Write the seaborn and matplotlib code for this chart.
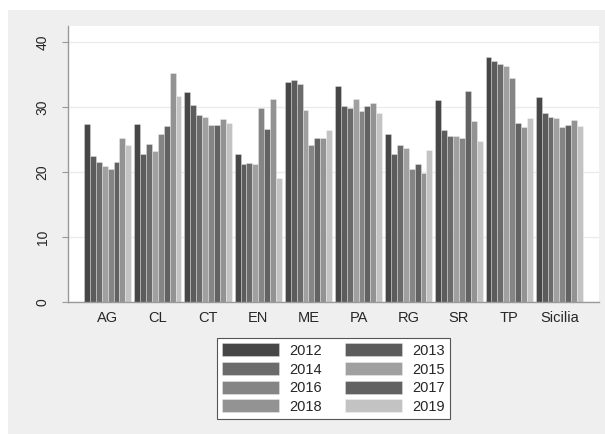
import pandas as pd
import numpy as np
import matplotlib
matplotlib.use('Agg')
import matplotlib.pyplot as plt
import seaborn as sns
from matplotlib.patches import Rectangle

# provinces and years
provinces = ['AG', 'CL', 'CT', 'EN', 'ME', 'PA', 'RG', 'SR', 'TP', 'Sicilia']
years = ['2012', '2013', '2014', '2015', '2016', '2017', '2018', '2019']

# values per province, one per year (2012..2019)
AG = [27.4, 22.5, 21.6, 20.9, 20.5, 21.5, 25.3, 24.1]
CL = [27.4, 22.7, 24.3, 23.3, 25.8, 27.0, 35.3, 31.7]
CT = [32.3, 30.3, 28.7, 28.5, 27.2, 27.2, 28.2, 27.6]
EN = [22.7, 21.2, 21.4, 21.2, 29.9, 26.6, 31.3, 19.1]
ME = [33.8, 34.2, 33.5, 29.6, 24.1, 25.2, 25.2, 26.4]
PA = [33.3, 30.1, 29.9, 31.3, 29.4, 30.1, 30.6, 29.0]
RG = [25.8, 22.7, 24.1, 23.7, 20.5, 21.3, 19.8, 23.4]
SR = [31.0, 26.4, 25.6, 25.5, 25.3, 32.5, 27.8, 24.8]
TP = [37.7, 37.0, 36.6, 36.3, 34.4, 27.6, 26.9, 28.3]
Sicilia = [31.6, 29.0, 28.5, 28.3, 26.9, 27.3, 28.0, 27.1]

year_colors = ['#474747', '#5c5c5c', '#6b6b6b', '#a0a0a0',
               '#858585', '#626262', '#939393', '#c3c3c3']

#put everything together in long form
values = [AG, CL, CT, EN, ME, PA, RG, SR, TP, Sicilia]
rows = []
for p, vals in zip(provinces, values):
    for y, v in zip(years, vals):
        rows.append({'prov': p, 'year': y, 'value': v})
df = pd.DataFrame(rows)

sns.set_theme(style='white')
plt.rcParams['font.family'] = ['Liberation Sans', 'DejaVu Sans']

fig = plt.figure(figsize=(6.05, 4.34), dpi=100, facecolor='white')
#grey outer region like the stata graph region
fig.patches.append(Rectangle((8/605, 0), 1 - 8/605, 424/434, transform=fig.transFigure,
                             facecolor='#efefef', edgecolor='none', zorder=-10))

ax = fig.add_axes([68/605, 132/434, 531/605, 276/434])
ax.set_facecolor('white')

sns.barplot(data=df, x='prov', y='value', hue='year', order=provinces, hue_order=years,
            palette=year_colors, width=0.94, saturation=1, ax=ax,
            edgecolor=(1, 1, 1, 0.35), linewidth=0.6)

ax.set_xlim(-0.79, 9.79)
ax.set_ylim(0, 42.46)
ax.set_yticks([0, 10, 20, 30, 40])
ax.set_xlabel('')
ax.set_ylabel('')
ax.grid(axis='y', color='#ebebeb', linewidth=1)
ax.set_axisbelow(True)
for s in ['top', 'right']:
    ax.spines[s].set_visible(False)
for s in ['left', 'bottom']:
    ax.spines[s].set_color('#999999')
    ax.spines[s].set_linewidth(1)
ax.tick_params(axis='y', length=4.3, width=0.8, color='#999999', pad=9,
               labelsize=10, labelrotation=90, left=True)
for lab in ax.get_yticklabels():
    lab.set_verticalalignment('center')
ax.tick_params(axis='x', length=0, pad=6.5, labelsize=10.5)

#legend, reorder so it fills row by row
handles, labels = ax.get_legend_handles_labels()
ax.legend_.remove()
order = [0, 2, 4, 6, 1, 3, 5, 7]
leg = fig.legend([handles[i] for i in order], [labels[i] for i in order],
                 ncol=2, loc='upper center', bbox_to_anchor=(333.5/605, 1 - 331/434),
                 fontsize=10.5, handlelength=3.9, handleheight=1.0, handletextpad=0.7,
                 columnspacing=1.6, labelspacing=0.28, borderpad=0.35,
                 frameon=True, fancybox=False, edgecolor='#555555', framealpha=1)
leg.get_frame().set_linewidth(0.8)

fig.savefig('out.png', dpi=100, facecolor='white')
